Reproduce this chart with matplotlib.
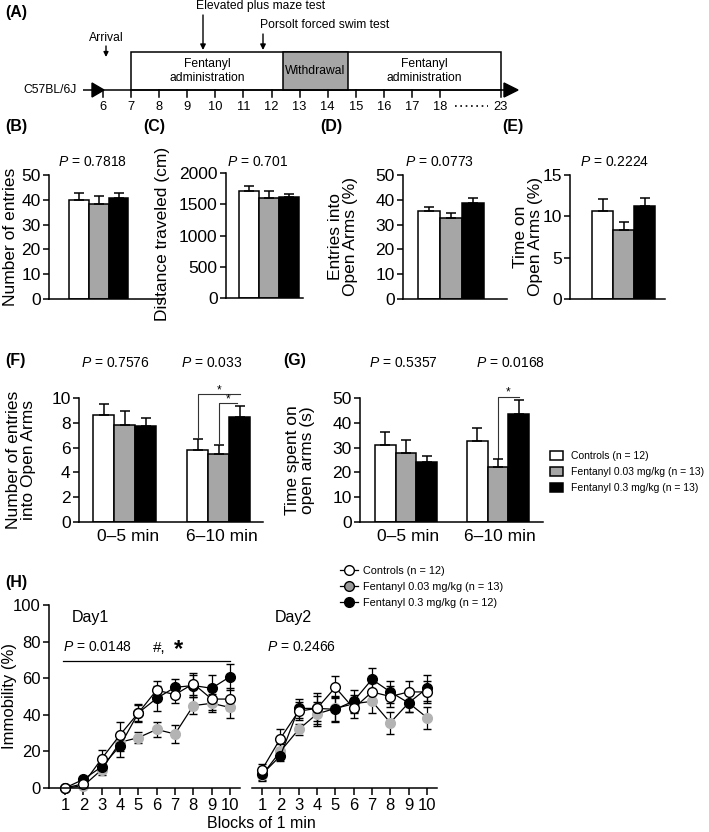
import matplotlib
matplotlib.use('Agg')
import matplotlib.pyplot as plt
from matplotlib.patches import Rectangle, Patch, Polygon
from matplotlib.lines import Line2D
import numpy as np

plt.rcParams['font.family'] = ['Liberation Sans', 'DejaVu Sans']
plt.rcParams['mathtext.fontset'] = 'custom'
plt.rcParams['mathtext.rm'] = 'Liberation Sans'
plt.rcParams['mathtext.it'] = 'Liberation Sans:italic'

# ---------------- data ----------------
groups = ['Controls', 'Fentanyl 0.03 mg/kg', 'Fentanyl 0.3 mg/kg']
bar_colors = ['white', '#a6a6a6', 'black']

B_mean = [40.0, 38.4, 40.9]
B_sem = [2.6, 3.3, 2.0]
C_mean = [1710, 1605, 1612]
C_sem = [80, 115, 58]
D_mean = [35.3, 32.6, 38.9]
D_sem = [1.8, 2.0, 1.8]
E_mean = [10.7, 8.35, 11.3]
E_sem = [1.45, 1.0, 0.95]

F_mean_0_5 = [8.65, 7.84, 7.76]
F_sem_0_5 = [0.90, 1.08, 0.62]
F_mean_6_10 = [5.81, 5.49, 8.46]
F_sem_6_10 = [0.87, 0.73, 0.86]
G_mean_0_5 = [31.1, 27.7, 24.3]
G_sem_0_5 = [5.1, 5.4, 2.3]
G_mean_6_10 = [32.7, 22.3, 43.5]
G_sem_6_10 = [5.4, 3.1, 5.5]
period_labels = ['0\u20135 min', '6\u201310 min']

P_B, P_C, P_D, P_E = '0.7818', '0.701', '0.0773', '0.2224'
P_F = ['0.7576', '0.033']
P_G = ['0.5357', '0.0168']
P_H = ['0.0148', '0.2466']

legend_FG = ['Controls (n = 12)', 'Fentanyl 0.03 mg/kg (n = 13)', 'Fentanyl 0.3 mg/kg (n = 13)']
legend_H = ['Controls (n = 12)', 'Fentanyl 0.03 mg/kg (n = 13)', 'Fentanyl 0.3 mg/kg (n = 12)']

blocks = [1, 2, 3, 4, 5, 6, 7, 8, 9, 10]
ctrl_d1 = [0, 2.3, 16, 29, 41, 53.5, 51, 57, 48.6, 48.6]
ctrl_d1_sem = [0.5, 1.5, 4.8, 7, 5, 5, 4.5, 6, 6, 6]
low_d1 = [0, 1.2, 10, 25, 27.5, 32, 29.5, 45, 46.3, 44]
low_d1_sem = [0.5, 1, 3, 5, 3, 4, 5, 4.5, 5, 6]
high_d1 = [0, 4.7, 11.6, 23, 41, 49, 55, 56, 54.5, 60.8]
high_d1_sem = [0.5, 1.5, 3, 6, 4.5, 7, 4.5, 6, 7.5, 7.2]

ctrl_d2 = [10, 27, 42, 43.5, 55, 43.5, 52.5, 50, 52.5, 52.5]
ctrl_d2_sem = [3, 5, 5, 7, 6, 5, 5, 6, 6, 6]
low_d2 = [7, 20, 32, 40.5, 43.5, 46, 47.4, 35.7, 46.5, 38.5]
low_d2_sem = [3, 4, 3, 6.5, 7, 5, 6.4, 6, 5, 6]
high_d2 = [7.5, 17.5, 43.5, 43.5, 43, 47.5, 59.4, 52.5, 46.5, 54.5]
high_d2_sem = [3, 3, 5, 8.5, 7, 6, 6.4, 6, 5, 7]

timeline_days = [6, 7, 8, 9, 10, 11, 12, 13, 14, 15, 16, 17, 18, 23]

# ---------------- figure ----------------
W, H = 709, 832
fig = plt.figure(figsize=(W / 100, H / 100), dpi=100)

ov = fig.add_axes([0, 0, 1, 1])
ov.set_xlim(0, W)
ov.set_ylim(H, 0)
ov.axis('off')
ov.patch.set_visible(False)


def ax_px(l, t, r, b):
    a = fig.add_axes([l / W, 1 - b / H, (r - l) / W, (b - t) / H])
    a.patch.set_facecolor('none')
    return a


LW = 1.1
TICKFS = 12.5
LABFS = 12.5
PFS = 10
PANELFS = 11.5


def style_ax(a):
    for s in ['top', 'right']:
        a.spines[s].set_visible(False)
    for s in ['left', 'bottom']:
        a.spines[s].set_linewidth(LW)
    a.tick_params(axis='y', direction='out', length=4, width=LW, labelsize=TICKFS, pad=2)
    a.tick_params(axis='x', length=0, labelsize=TICKFS, pad=5)


def ptext(x, y, val, **kw):
    ov.text(x, y, '$P$ = ' + val, ha='center', va='center', fontsize=PFS, **kw)


def bar_panel(spine_px, end_px, top_px, bot_px, first_px, bw, group_offsets, means, sems, ylim, yticks):
    a = ax_px(spine_px, top_px, end_px, bot_px)
    style_ax(a)
    pos_all = []
    for off, m, s in zip(group_offsets, means, sems):
        pos = [off + i for i in range(3)]
        pos_all.append(pos)
        a.bar(pos, m, width=1.0, color=bar_colors, edgecolor='black', linewidth=LW, zorder=2)
        a.errorbar(pos, m, yerr=[np.zeros(3), s], fmt='none', ecolor='black',
                   elinewidth=LW, capsize=3.5, capthick=LW, zorder=3)
    x0 = (spine_px - first_px) / bw - 0.5
    x1 = (end_px - first_px) / bw - 0.5
    a.set_xlim(x0, x1)
    a.set_ylim(*ylim)
    a.set_yticks(yticks)
    a.set_xticks([])
    return a, pos_all


# ---------------- Panel A (timeline schematic) ----------------
def day_px(d):
    return 501 if d == 23 else 131 + (d - 7) * 28.1


ov.plot([83, 510], [90, 90], color='black', lw=LW, solid_capstyle='butt')
ov.add_patch(Polygon([[92, 83], [92, 97], [104, 90]], closed=True, color='black'))
ov.add_patch(Polygon([[504, 83], [504, 97], [518, 90]], closed=True, color='black'))
for d in timeline_days:
    x = day_px(d)
    ov.plot([x, x], [90, 97], color='black', lw=LW)
    ov.text(x, 107, str(d), ha='center', va='center', fontsize=9.3)
ov.plot([455, 488], [106, 106], color='black', lw=1.2, ls=(0, (1, 2.2)))
ov.add_patch(Rectangle((131, 52), 370, 38, fill=False, ec='black', lw=LW))
ov.add_patch(Rectangle((283, 52), 65, 38, fc='#a6a6a6', ec='black', lw=LW))
ov.text(207, 71, 'Fentanyl\nadministration', ha='center', va='center', fontsize=8.7, linespacing=1.15)
ov.text(315.5, 71, 'Withdrawal', ha='center', va='center', fontsize=8.7)
ov.text(424.5, 71, 'Fentanyl\nadministration', ha='center', va='center', fontsize=8.7, linespacing=1.15)
ov.text(50, 90, 'C57BL/6J', ha='center', va='center', fontsize=8.7)
ov.text(106, 38, 'Arrival', ha='center', va='center', fontsize=8.7)
ov.annotate('', xy=(106, 57), xytext=(106, 46),
            arrowprops=dict(arrowstyle='-|>', color='black', lw=1, mutation_scale=7, shrinkA=0, shrinkB=0))
ov.text(261, 6, 'Elevated plus maze test', ha='center', va='center', fontsize=8.7)
ov.annotate('', xy=(203, 50), xytext=(203, 15),
            arrowprops=dict(arrowstyle='-|>', color='black', lw=1, mutation_scale=8, shrinkA=0, shrinkB=0))
ov.text(325, 25, 'Porsolt forced swim test', ha='center', va='center', fontsize=8.7)
ov.annotate('', xy=(263, 50), xytext=(263, 34),
            arrowprops=dict(arrowstyle='-|>', color='black', lw=1, mutation_scale=8, shrinkA=0, shrinkB=0))

# ---------------- Panels B-E ----------------
bar_panel(49, 163, 175, 299, 69, 19.8, [0], [B_mean], [B_sem], (0, 50), [0, 10, 20, 30, 40, 50])
bar_panel(226, 303, 173, 298, 239, 20.0, [0], [C_mean], [C_sem], (0, 2000), [0, 500, 1000, 1500, 2000])
bar_panel(403, 507, 175, 299, 418, 22.0, [0], [D_mean], [D_sem], (0, 50), [0, 10, 20, 30, 40, 50])
bar_panel(570, 665, 175, 299, 592, 21.0, [0], [E_mean], [E_sem], (0, 15), [0, 5, 10, 15])

ptext(92, 162, P_B)
ptext(258, 162, P_C)
ptext(439, 162, P_D)
ptext(615, 162, P_E)

ov.text(11, 237, 'Number of entries', rotation=90, ha='center', va='center', fontsize=LABFS)
ov.text(163, 234, 'Distance traveled (cm)', rotation=90, ha='center', va='center', fontsize=LABFS)
ov.text(343, 237, 'Entries into\nOpen Arms (%)', rotation=90, ha='center', va='center', fontsize=LABFS, linespacing=1.0)
ov.text(528, 237, 'Time on\nOpen Arms (%)', rotation=90, ha='center', va='center', fontsize=LABFS, linespacing=1.0)

# ---------------- Panel F ----------------
axF, posF = bar_panel(79, 263, 398, 522, 93, 21.0, [0, 4.48],
                      [F_mean_0_5, F_mean_6_10], [F_sem_0_5, F_sem_6_10], (0, 10), [0, 2, 4, 6, 8, 10])
axF.set_xticks([posF[0][1] + 0.15, posF[1][1] + 0.15])
axF.set_xticklabels(period_labels)
br = dict(color='#333333', lw=0.8, clip_on=False)
axF.plot([posF[1][0], posF[1][0], posF[1][2]], [6.85, 10.3, 10.3], **br)
axF.plot([posF[1][1], posF[1][1], posF[1][2] - 0.1], [6.37, 9.6, 9.6], **br)
axF.text((posF[1][0] + posF[1][2]) / 2, 10.6, '*', ha='center', va='center', fontsize=8.5, clip_on=False)
axF.text((posF[1][1] + posF[1][2]) / 2 - 0.05, 9.85, '*', ha='center', va='center', fontsize=8.5, clip_on=False)
ptext(115, 363, P_F[0])
ptext(212, 363, P_F[1])
ov.text(21, 460, 'Number of entries\ninto Open Arms', rotation=90, ha='center', va='center', fontsize=LABFS, linespacing=1.0)

# ---------------- Panel G ----------------
axG, posG = bar_panel(360, 543, 398, 522, 375, 20.7, [0, 4.44],
                      [G_mean_0_5, G_mean_6_10], [G_sem_0_5, G_sem_6_10], (0, 50), [0, 10, 20, 30, 40, 50])
axG.set_xticks([posG[0][1] + 0.1, posG[1][1] + 0.1])
axG.set_xticklabels(period_labels)
axG.plot([posG[1][1], posG[1][1], posG[1][2]], [25.8, 50.4, 50.4], **br)
axG.text((posG[1][1] + posG[1][2]) / 2, 52.3, '*', ha='center', va='center', fontsize=8.5, clip_on=False)
ptext(403, 363, P_G[0])
ptext(510, 363, P_G[1])
ov.text(300, 460, 'Time spent on\nopen arms (s)', rotation=90, ha='center', va='center', fontsize=LABFS, linespacing=1.0)

fg_handles = [Patch(facecolor=c, edgecolor='black', linewidth=LW) for c in bar_colors]
fig.legend(fg_handles, legend_FG, loc='upper left', bbox_to_anchor=(550 / W, 1 - 451 / H),
           frameon=False, fontsize=7.5, handlelength=1.25, handleheight=1.0,
           handletextpad=0.75, labelspacing=0.55, borderpad=0, borderaxespad=0)

# ---------------- Panel H ----------------
bs = 18.33
ax1 = ax_px(49, 605, 240, 788)
ax2 = ax_px(252, 605, 437, 788)
for a, l, r, t1 in [(ax1, 49, 240, 65), (ax2, 252, 437, 262)]:
    style_ax(a)
    a.tick_params(axis='y', labelsize=12)
    a.tick_params(axis='x', direction='out', length=5, width=LW, labelsize=12, pad=2)
    a.set_xlim(1 + (l - t1) / bs, 1 + (r - t1) / bs)
    a.set_ylim(0, 100)
    a.set_xticks(blocks)
ax1.set_yticks([0, 20, 40, 60, 80, 100])
ax2.spines['left'].set_visible(False)
ax2.set_yticks([])

low_col = '#b3b3b3'
series_style = [
    dict(mfc=low_col, mec=low_col),
    dict(mfc='black', mec='black'),
    dict(mfc='white', mec='black'),
]
d1 = [(low_d1, low_d1_sem), (high_d1, high_d1_sem), (ctrl_d1, ctrl_d1_sem)]
d2 = [(low_d2, low_d2_sem), (high_d2, high_d2_sem), (ctrl_d2, ctrl_d2_sem)]
for a, dat in [(ax1, d1), (ax2, d2)]:
    for (m, s), st in zip(dat, series_style):
        a.errorbar(blocks, m, yerr=s, fmt='-o', color='black', lw=0.9, ms=7, mew=1.0,
                   ecolor='black', elinewidth=0.9, capsize=3, capthick=0.9, clip_on=False, **st)

ax1.text(2.36, 93, 'Day1', ha='center', va='center', fontsize=11.5)
ax2.text(2.69, 93, 'Day2', ha='center', va='center', fontsize=11.5)
ax1.text(0.89, 77, '$P$ = ' + P_H[0], ha='left', va='center', fontsize=PFS)
ax2.text(1.27, 77, '$P$ = ' + P_H[1], ha='left', va='center', fontsize=PFS)
ax1.plot([0.9, 10.0], [69.4, 69.4], color='black', lw=0.9)
ax1.text(6.15, 76.5, '#,', ha='center', va='center', fontsize=11)
ax1.text(7.2, 75.5, '*', ha='center', va='center', fontsize=17, fontweight='bold')
ov.text(10, 696, 'Immobility (%)', rotation=90, ha='center', va='center', fontsize=12)
ov.text(261, 824, 'Blocks of 1 min', ha='center', va='center', fontsize=11.5)

h_handles = [
    Line2D([], [], color='black', lw=0.9, marker='o', ms=7, mfc='white', mec='black'),
    Line2D([], [], color='black', lw=0.9, marker='o', ms=7, mfc='#999999', mec='black'),
    Line2D([], [], color='black', lw=0.9, marker='o', ms=7, mfc='black', mec='black'),
]
fig.legend(h_handles, legend_H, loc='upper left', bbox_to_anchor=(340 / W, 1 - 566 / H),
           frameon=False, fontsize=7.8, handlelength=1.65, handletextpad=0.5,
           labelspacing=0.55, borderpad=0, borderaxespad=0)

# ---------------- panel labels ----------------
for lab, x, y in [('(A)', 5, 12), ('(B)', 5, 127), ('(C)', 143, 127), ('(D)', 320, 127),
                  ('(E)', 502, 127), ('(F)', 5, 361), ('(G)', 283, 361), ('(H)', 5, 582)]:
    ov.text(x, y, lab, ha='left', va='center', fontsize=PANELFS, fontweight='bold')

fig.savefig('out.png', dpi=100)
